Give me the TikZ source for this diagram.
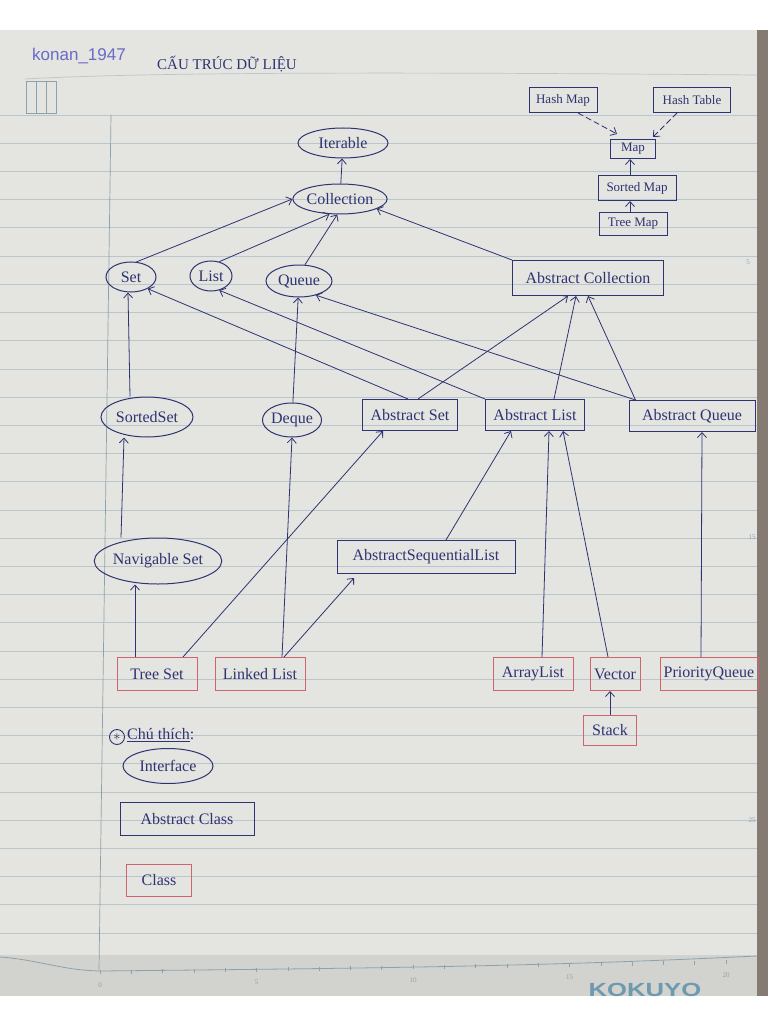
\documentclass[tikz,border=0pt]{standalone}
\usepackage{fontspec}
\setmainfont{Liberation Serif}
\newfontfamily\wmfont{Liberation Sans}
\usepackage{tikz}
\usetikzlibrary{arrows.meta,shapes.geometric}
\definecolor{ink}{HTML}{2E3372}
\definecolor{redink}{HTML}{D0646E}
\definecolor{paper}{HTML}{E4E4E0}
\definecolor{paperlow}{HTML}{D2D2CE}
\definecolor{rulecol}{HTML}{B9C6CC}
\definecolor{margincol}{HTML}{8EA2AC}
\definecolor{deskcol}{HTML}{857B72}
\definecolor{wmark}{HTML}{6A6AC8}
\definecolor{logocol}{HTML}{6E9AAF}
\tikzset{
  iface/.style={ellipse,draw=ink,line width=1pt,inner sep=0pt,text=ink,
    font=\fontsize{16}{18}\selectfont,minimum height=30pt},
  absbox/.style={rectangle,draw=ink,line width=1pt,inner sep=0pt,text=ink,
    font=\fontsize{16}{18}\selectfont,minimum height=31pt},
  clsbox/.style={absbox,draw=redink},
  mapbox/.style={absbox,font=\fontsize{13}{15}\selectfont,minimum height=25pt},
  inh/.style={-{Straight Barb[length=5pt,width=9pt]},draw=ink,line width=0.8pt},
  inhdash/.style={inh,dash pattern=on 6pt off 3pt},
  pagetxt/.style={text=margincol,font=\fontsize{7}{8}\selectfont,inner sep=0pt},
}

\begin{document}
\begin{tikzpicture}[x=1pt,y=-1pt]
\useasboundingbox (0,0) rectangle (768,1024);
% the notebook page
\fill[white] (0,0) rectangle (768,1024);
\fill[paper] (0,30) rectangle (757,996);
\fill[paperlow] (0,955) rectangle (757,996);
\fill[deskcol] (757,30) rectangle (768,996);
\foreach \k in {0,...,29}
  \draw[rulecol,line width=0.6pt] (0,115+28.2*\k) -- (757,115+28.2*\k);
\draw[rulecol,line width=0.7pt] (25,79) .. controls (150,72) and (400,72) .. (757,75);
\draw[margincol,line width=0.7pt] (111,115) -- (99,970);
\draw[margincol,line width=0.6pt] (26,81) rectangle (56,113) (36,81) -- (36,113) (46,81) -- (46,113);
% ruler at the foot of the page
\draw[margincol,line width=0.8pt] (0,957) .. controls (40,960) and (60,970) .. (100,971)
  .. controls (400,968) and (550,966) .. (757,956);
\foreach \i in {0,...,20}
  \draw[margincol,line width=0.5pt] (100+31.3*\i,970-0.5*\i) -- ++(0,4);
\foreach \n [count=\j from 0] in {0,5,10,15,20}
  \node[pagetxt] (tick\j) at (100+156.5*\j,985-2.5*\j) {\n};
\node[pagetxt] (rm5) at (748,262) {5};
\node[pagetxt] (rm15) at (752,537) {15};
\node[pagetxt] (rm25) at (752,820) {25};
\node[text=logocol,font=\wmfont\bfseries\fontsize{19}{19}\selectfont,xscale=1.35,
  transform shape,inner sep=0pt] (logo) at (645,990) {KOKUYO};
\fill[white] (0,997) rectangle (768,1024);

% header
\node[anchor=west,text=wmark,font=\wmfont\fontsize{17}{19}\selectfont,inner sep=0pt]
  (wm) at (32,56) {konan\_1947};
\node[anchor=west,text=ink,font=\fontsize{15}{17}\selectfont,inner sep=0pt]
  (title) at (157,64) {CẤU TRÚC DỮ LIỆU};

% interfaces of the collection tree
\node[iface,minimum width=90pt] (iter) at (343,143) {Iterable};
\node[iface,minimum width=88pt] (coll) at (340,199) {Collection};
\node[iface,minimum width=50pt] (set) at (131,277) {Set};
\node[iface,minimum width=42pt] (list) at (211,276) {List};
\node[iface,minimum width=66pt,minimum height=32pt] (queue) at (299,281) {Queue};
\node[iface,minimum width=92pt,minimum height=40pt] (sset) at (147,417) {SortedSet};
\node[iface,minimum width=52pt,minimum height=34pt] (deque) at (292,420) {Deque};
\node[iface,minimum width=112pt,minimum height=46pt] (nset) at (158,561) {Navigable Set};
% abstract classes
\node[absbox,minimum width=151pt,minimum height=35pt] (acoll) at (588,278) {Abstract Collection};
\node[absbox,minimum width=95pt] (aset) at (410,415) {Abstract Set};
\node[absbox,minimum width=99pt] (alist) at (535,415) {Abstract List};
\node[absbox,minimum width=126pt] (aqueue) at (692,416) {Abstract Queue};
\node[absbox,minimum width=178pt,minimum height=33pt] (aslist) at (426,557) {AbstractSequentialList};
% concrete classes
\node[clsbox,minimum width=80pt,minimum height=33pt] (tset) at (157,674) {Tree Set};
\node[clsbox,minimum width=90pt,minimum height=33pt] (llist) at (260,674) {Linked List};
\node[clsbox,minimum width=80pt,minimum height=33pt] (arlist) at (533,674) {ArrayList};
\node[clsbox,minimum width=50pt,minimum height=33pt] (vec) at (615,674) {Vector};
\node[clsbox,minimum width=98pt,minimum height=33pt] (pq) at (709,674) {PriorityQueue};
\node[clsbox,minimum width=53pt,minimum height=30pt] (stack) at (610,730) {Stack};
% the map corner
\node[mapbox,minimum width=68pt] (hmap) at (563,100) {Hash Map};
\node[mapbox,minimum width=77pt] (htab) at (692,100) {Hash Table};
\node[mapbox,minimum width=45pt,minimum height=19pt] (map) at (633,149) {Map};
\node[mapbox,minimum width=78pt] (smap) at (637,188) {Sorted Map};
\node[mapbox,minimum width=68pt,minimum height=23pt] (tmap) at (633,224) {Tree Map};

% up to Collection / Iterable
\draw[inh] (coll) -- (iter);
\draw[inh] (set.70) -- (coll.west);
\draw[inh] (list.60) -- (coll.235);
\draw[inh] (queue.70) -- (coll.260);
\draw[inh] (acoll.north west) -- (coll.345);
% set branch
\draw[inh] ([xshift=-17pt]sset.north) -- ([xshift=-3pt]set.south);
\draw[inh] ([xshift=-37pt]nset.north) -- ([xshift=-23pt]sset.south);
\draw[inh] ([xshift=-22pt]tset.north) -- ([xshift=-23pt]nset.south);
\draw[inh] ([xshift=26pt]tset.north) -- ([xshift=-27pt]aset.south);
% abstract classes to their interface and to Abstract Collection
\draw[inh] ([xshift=-2pt]aset.north) -- (set.-35);
\draw[inh] (alist.north west) -- (list.-60);
\draw[inh] ([xshift=7pt]aqueue.north west) -- (queue.-40);
\draw[inh] ([xshift=8pt]aset.north) -- ([xshift=-20pt]acoll.south);
\draw[inh] ([xshift=19pt]alist.north) -- ([xshift=-12pt]acoll.south);
\draw[inh] ([xshift=7pt]aqueue.north west) -- (acoll.south);
% list and queue branch
\draw[inh] (deque) -- (queue);
\draw[inh] ([xshift=22pt]llist.north) -- (deque.south);
\draw[inh] ([xshift=24pt]llist.north) -- ([xshift=-72pt,yshift=-4pt]aslist.south);
\draw[inh] ([xshift=20pt]aslist.north) -- ([xshift=-24pt]alist.south);
\draw[inh] ([xshift=9pt]arlist.north) -- ([xshift=14pt]alist.south);
\draw[inh] ([xshift=-7pt]vec.north) -- ([xshift=28pt]alist.south);
\draw[inh] ([xshift=-8pt]pq.north) -- ([xshift=10pt]aqueue.south);
\draw[inh] (stack.north) -- (stack.north |- vec.south);
% maps
\draw[inhdash] ([xshift=15pt]hmap.south) -- ([xshift=-16pt,yshift=5pt]map.north);
\draw[inhdash] ([xshift=-15pt]htab.south) -- ([xshift=-3pt,yshift=2pt]map.north east);
\draw[inh] ([xshift=-7pt]smap.north) -- ([xshift=-3pt]map.south);
\draw[inh] ([xshift=-3pt]tmap.north) -- ([xshift=-7pt]smap.south);

% legend
\node[circle,draw=ink,line width=0.9pt,inner sep=0pt,minimum size=15pt,text=ink,
  font=\Large] (star) at (117,737) {$*$};
\node[anchor=west,text=ink,font=\fontsize{16}{18}\selectfont,inner sep=0pt] (lgtitle) at (127,735) {\underline{Chú thích}:};
\node[iface,minimum width=90pt,minimum height=35pt] (lgiface) at (168,766) {Interface};
\node[absbox,minimum width=134pt,minimum height=33pt] (lgabs) at (187,819) {Abstract Class};
\node[clsbox,minimum width=65pt,minimum height=32pt] (lgcls) at (159,880) {Class};
\end{tikzpicture}
\end{document}
